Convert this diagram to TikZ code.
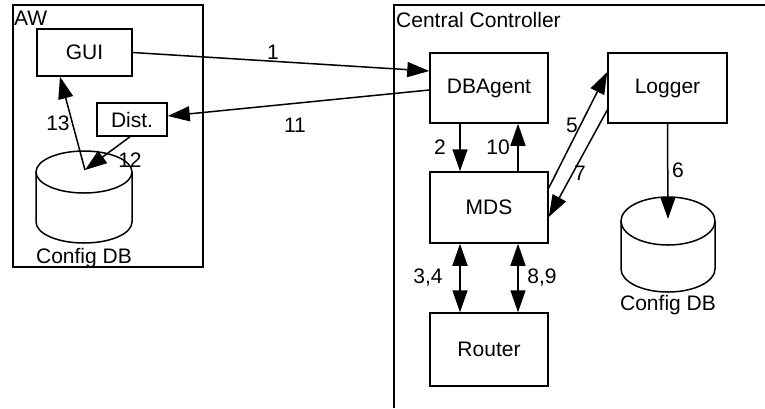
\documentclass[tikz,border=0pt]{standalone}
\usepackage{fontspec}
\setmainfont{Liberation Sans}
\usetikzlibrary{arrows.meta}
\begin{document}
\begin{tikzpicture}[x=1pt,y=-1pt,
  every node/.style={font=\fontsize{21}{25}\selectfont, inner sep=0pt},
  box/.style={draw, line width=1.5pt},
  conn/.style={line width=1.5pt, -{Triangle[length=22pt,width=15pt]}},
  dconn/.style={line width=1.5pt, {Triangle[length=22pt,width=15pt]}-{Triangle[length=22pt,width=15pt]}},
  frame/.style={line width=1.5pt}]
\useasboundingbox (0,0) rectangle (765,408);
% frames
\draw[frame] (13,5) rectangle (203,267);
\draw[frame] (394,408) -- (394,5) -- (765,5);
\node[anchor=west] (aw) at (14,18) {AW};
\node[anchor=west] (cc) at (396,20) {Central Controller};
% boxes
\node[box, minimum width=95pt, minimum height=47pt] (GUI) at (84.5,52.5) {GUI};
\node[box, minimum width=70pt, minimum height=33pt] (Dist) at (132,119.5) {Dist.};
\node[box, minimum width=118pt, minimum height=70pt] (DBAgent) at (489,88) {DBAgent};
\node[box, minimum width=119pt, minimum height=70pt] (Logger) at (667.5,88) {Logger};
\node[box, minimum width=118pt, minimum height=71pt] (MDS) at (489,207.5) {MDS};
\node[box, minimum width=118pt, minimum height=73pt] (Router) at (489,349.5) {Router};
% cylinders
\draw[frame] (84,172) ellipse [x radius=48, y radius=21];
\draw[frame] (36,172) -- (36,222) arc [start angle=180, end angle=0, x radius=48, y radius=21] -- (132,172);
\node (db1lbl) at (84,258) {Config DB};
\coordinate (db1top) at (85,170);
\draw[frame] (668,221) ellipse [x radius=47, y radius=24];
\draw[frame] (621,221) -- (621,269) arc [start angle=180, end angle=0, x radius=47, y radius=23] -- (715,221);
\node (db2lbl) at (668,305) {Config DB};
\coordinate (db2top) at (668,219);
% connectors
\draw[conn] (GUI.east) -- ([yshift=17pt]DBAgent.west);
\node (l1) at (273,52) {1};
\draw[conn] ([yshift=-2pt]DBAgent.west) -- ([yshift=3.5pt]Dist.east);
\node (l11) at (295,125) {11};
\draw[conn] ([xshift=-29pt]DBAgent.south) -- ([xshift=-29pt]MDS.north);
\node (l2) at (440,147) {2};
\draw[conn] ([xshift=29pt]MDS.north) -- ([xshift=29pt]DBAgent.south);
\node (l10) at (498,147) {10};
\draw[conn] ([yshift=19.5pt]MDS.east) -- ([yshift=16pt]Logger.west);
\node (l5) at (572,125) {5};
\draw[conn] ([yshift=-22pt]Logger.west) -- ([yshift=-9.5pt]MDS.east);
\node (l7) at (580,173) {7};
\draw[conn] (Logger.south) -- (db2top);
\node (l6) at (678,170) {6};
\draw[dconn] ([xshift=-29pt]MDS.south) -- ([xshift=-29pt]Router.north);
\node (l34) at (428,278) {3,4};
\draw[dconn] ([xshift=29pt]MDS.south) -- ([xshift=29pt]Router.north);
\node (l89) at (542,278) {8,9};
\draw[conn] ([xshift=-2pt]Dist.south) -- (db1top);
\node (l12) at (130,160) {12};
\draw[conn] (db1top) -- ([xshift=-24.5pt]GUI.south);
\node (l13) at (58,123) {13};
\end{tikzpicture}
\end{document}
